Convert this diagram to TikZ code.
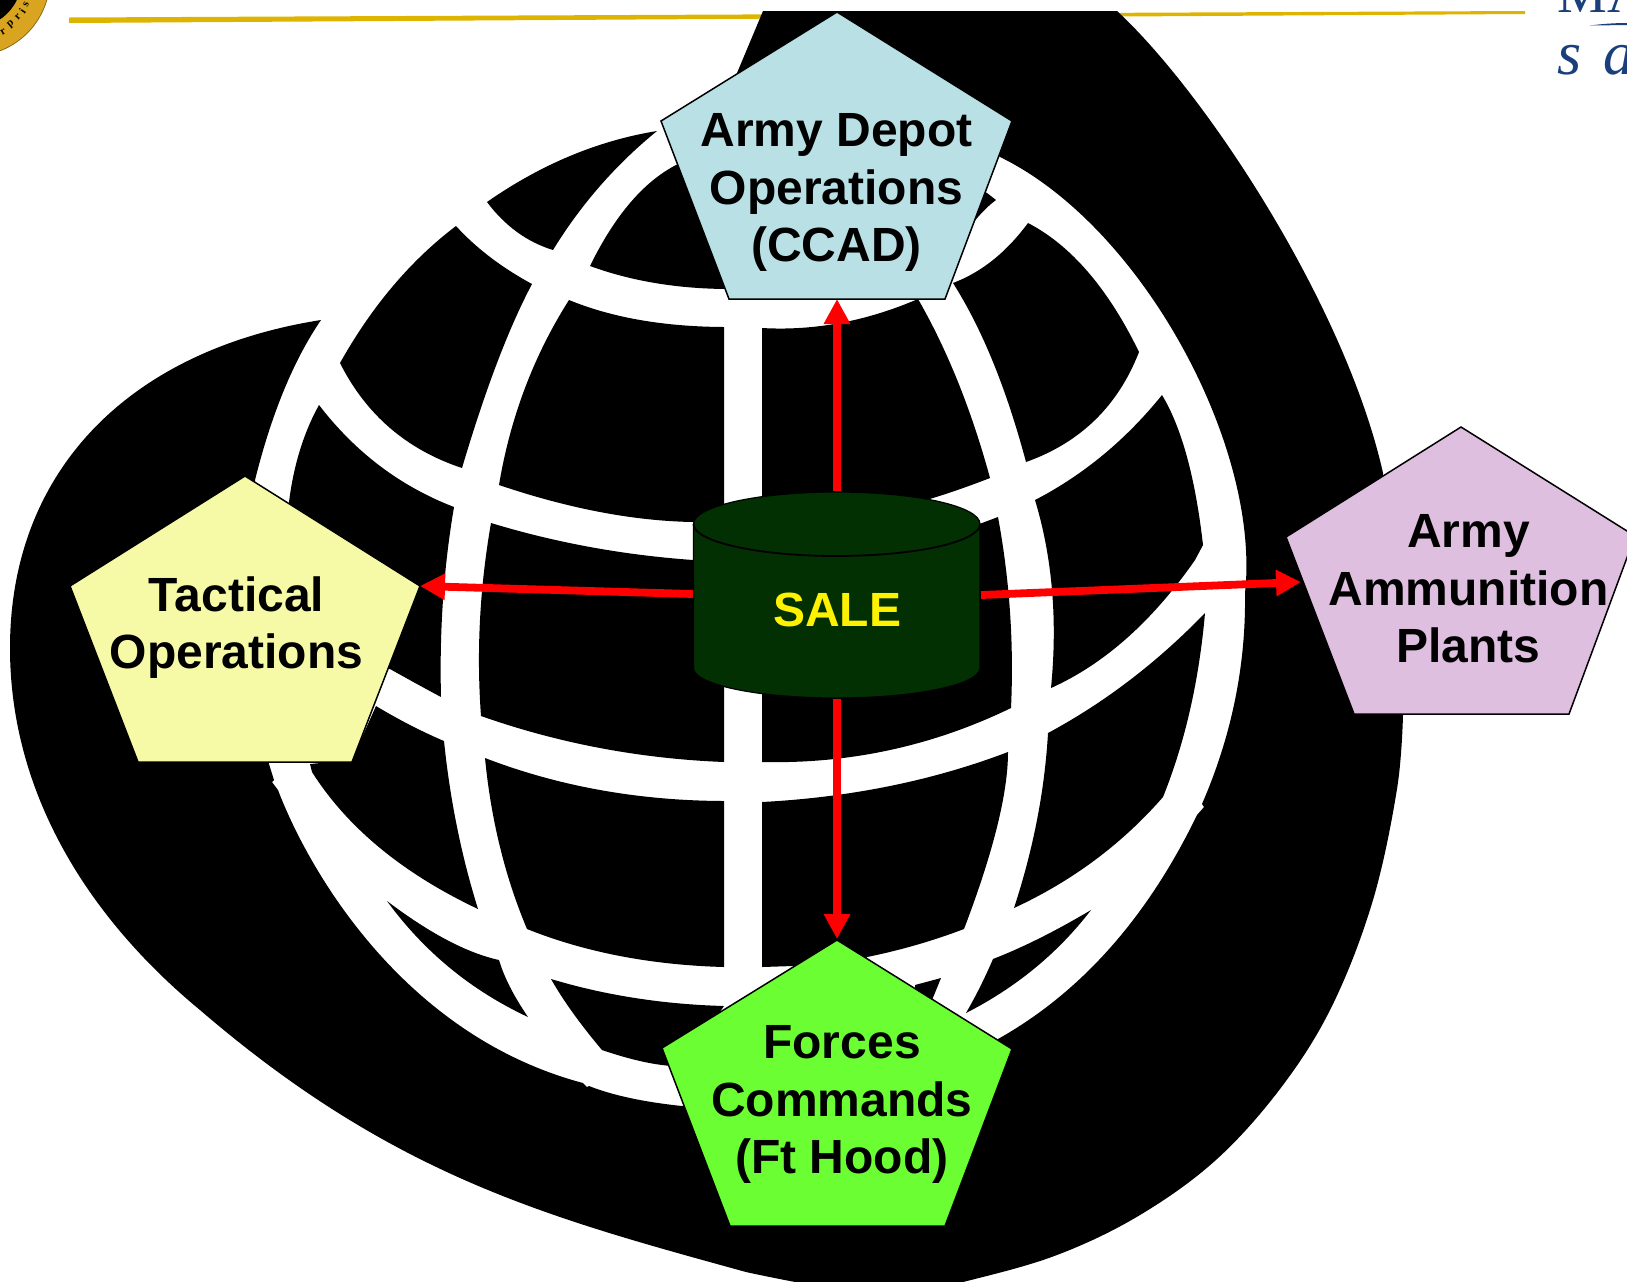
\documentclass[tikz,border=0pt]{standalone}
\usepackage{fontspec}
\setmainfont{Liberation Sans}
\newfontfamily\logofont{Liberation Serif}
\usetikzlibrary{arrows.meta,calc}
\definecolor{goldline}{HTML}{DDB400}
\definecolor{sealgold}{HTML}{D9A520}
\definecolor{sealedge}{HTML}{8A6A20}
\definecolor{logoblue}{HTML}{1A3F7A}
\definecolor{paleblue}{HTML}{B9E0E5}
\definecolor{paleyellow}{HTML}{F6FAA6}
\definecolor{palepurple}{HTML}{DFBFDF}
\definecolor{brightgreen}{HTML}{6BFF33}
\definecolor{saledark}{HTML}{033003}
% curve from a through m to b (parabola)
\def\QQ(#1)(#2)(#3){ .. controls ($1.3333*(#2)-0.3333*(#3)$) and ($1.3333*(#2)-0.3333*(#1)$) .. (#3)}
% cubic from a through p and q to b
\def\CC(#1)(#2)(#3)(#4){ .. controls ($0.3333*(#4)+3*(#2)-1.5*(#3)-0.8333*(#1)$) and ($0.3333*(#1)+3*(#3)-1.5*(#2)-0.8333*(#4)$) .. (#4)}
\tikzset{
  cell/.style={fill=black,draw=none,smooth,tension=.6},
  penta/.style={draw=black,line width=.75pt,line join=miter},
  lbl/.style={font=\bfseries\fontsize{24}{28.75}\selectfont,align=center,text=black,inner sep=0pt,outer sep=0pt},
  link/.style={draw=red,line width=3.9pt,-{Triangle[length=12.5pt,width=12.5pt]},shorten >=0pt},
  seal/.style={font=\logofont\bfseries\fontsize{5.5}{6}\selectfont,text=black,inner sep=0pt},
  logo/.style={font=\logofont\fontsize{29}{32}\selectfont,text=logoblue,inner sep=0pt,anchor=base west}
}
\begin{document}
\begin{tikzpicture}[x=0.5pt,y=-0.5pt]
\useasboundingbox (0,0) rectangle (1627,1281);
\clip (0,0) rectangle (1627,1281);
% seal
\fill[sealgold,draw=sealedge,line width=.4pt] (-28,-22) circle (78);
\fill[black] (-28,-22) circle (50);
\node[seal,rotate=31] (s1) at (3,32) {r};
\node[seal,rotate=40] (s2) at (11,24) {p};
\node[seal,rotate=47] (s3) at (18,17) {r};
\node[seal,rotate=55] (s4) at (22.5,11) {i};
\node[seal,rotate=63] (s5) at (26,4) {s};
% gold rule
\fill[goldline] (69,17.5) -- (1525,11) -- (1525,14) -- (69,23) -- cycle;
% logo fragments
\node[logo,font=\logofont\fontsize{28}{32}\selectfont] (logoM) at (1557,12) {MA};
\node[logo,font=\logofont\itshape\fontsize{31}{34}\selectfont] (logoS) at (1557,74) {s};
\node[logo,font=\logofont\itshape\fontsize{31}{34}\selectfont] (logoA) at (1603,74) {a};
\fill[logoblue] (1590,25.5) .. controls (1605,23.5) and (1618,23) .. (1627,23) -- (1627,25) .. controls (1615,25) and (1605,25.5) .. (1590,25.5) -- cycle;
% swoosh
\fill[cell]
  (763,11) -- (1117,11)
  \CC(1117,11)(1217,130)(1317,297)(1383,473)
  -- (1403,715)
  -- plot coordinates {(1403,715) (1397,789) (1373,900) (1333,1004) (1283,1085) (1217,1159) (1140,1215) (1057,1255) (967,1281) (900,1295)}
  -- (840,1290)
  \QQ(840,1290)(790,1281)(746,1272)
  \CC(746,1272)(560,1217)(384,1140)(200,1010)
  .. controls (85,915) and (10,790) .. (10,648)
  .. controls (10,470) and (130,350) .. (321,320)
  \QQ(321,320)(284,390)(255,480)
  -- (269,764) -- (274,780) -- (272,782) -- (278,790)
  \CC(278,790)(330,890)(430,1003)(583,1083)
  -- (587,1087) -- (589,1086)
  \QQ(589,1086)(630,1098)(682,1106)
  -- (998,1039)
  \QQ(998,1039)(1110,948)(1197,815)
  -- (1204,807) -- (1202,804)
  \QQ(1202,804)(1235,700)(1245,593)
  \CC(1245,593)(1220,430)(1130,268)(1000,157)
  -- (960,130) -- (737,73) -- cycle;
% globe cells
\fill[cell] (657,131) \QQ(657,131)(570,156)(487,202) \QQ(487,202)(517,232)(553,250) \QQ(553,250)(600,186)(657,131) -- cycle;
\fill[cell] (676,165) \QQ(676,165)(630,203)(590,266) \QQ(590,266)(655,283)(727,289) -- (900,280) -- (950,258) \QQ(950,258)(973,223)(996,200) -- (987,193) -- (850,120) -- cycle;
\fill[cell] (1028,223) \QQ(1028,223)(1088,272)(1139,352) \QQ(1139,352)(1095,420)(1026,462) \QQ(1026,462)(993,362)(953,283) \QQ(953,283)(993,260)(1028,223) -- cycle;
\fill[cell] (762,328) \QQ(762,328)(840,323)(918,299) \QQ(918,299)(958,382)(990,478) \QQ(990,478)(933,498)(880,512) -- (762,510) -- cycle;
\fill[cell] (569,300) \QQ(569,300)(640,320)(724,327) -- (724,510) -- (693,522) \QQ(693,522)(600,512)(499,485) \QQ(499,485)(525,388)(569,300) -- cycle;
\fill[cell] (456,226) \QQ(456,226)(490,257)(532,284) \QQ(532,284)(497,363)(462,468) \QQ(462,468)(390,428)(340,363) \QQ(340,363)(393,286)(456,226) -- cycle;
\fill[cell] (319,405) \QQ(319,405)(380,466)(454,507) \QQ(454,507)(443,600)(441,697) \QQ(441,697)(417,684)(390,669) -- (330,650) -- (289,502) \QQ(289,502)(300,450)(319,405) -- cycle;
\fill[cell] (491,523) \QQ(491,523)(590,547)(693,560) -- (724,570) -- (724,762) \QQ(724,762)(600,748)(481,716) \QQ(481,716)(480,620)(491,523) -- cycle;
\fill[cell] (376,706) \QQ(376,706)(410,725)(444,741) \QQ(444,741)(457,827)(478,909) \QQ(478,909)(380,848)(312,772) -- (310,764) -- (352,760) -- cycle;
\fill[cell] (485,758) \QQ(485,758)(600,790)(724,801) -- (724,967) \QQ(724,967)(620,956)(527,929) \QQ(527,929)(500,847)(485,758) -- cycle;
\fill[cell] (387,901) \QQ(387,901)(447,940)(499,960) \QQ(499,960)(510,987)(528,1017) \QQ(528,1017)(450,968)(387,901) -- cycle;
\fill[cell] (551,979) \QQ(551,979)(635,998)(724,1006) -- (700,1040) -- (672,1066) \QQ(672,1066)(640,1061)(602,1050) \QQ(602,1050)(573,1013)(551,979) -- cycle;
\fill[cell] (762,802) \QQ(762,802)(890,786)(1008,752) \QQ(1008,752)(997,827)(964,929) \QQ(964,929)(916,945)(867,957) -- (850,990) -- (800,985) -- (793,966) -- (762,967) -- cycle;
\fill[cell] (982,523) -- (998,517) \QQ(998,517)(1010,612)(1011,708) \QQ(1011,708)(890,750)(762,762) -- (762,650) -- (960,530) -- cycle;
\fill[cell] (1035,500) \QQ(1035,500)(1103,455)(1162,395) \QQ(1162,395)(1187,457)(1203,545) -- (1195,560) \QQ(1195,560)(1127,638)(1051,688) \QQ(1051,688)(1052,590)(1035,500) -- cycle;
\fill[cell] (1205,613) \QQ(1205,613)(1130,680)(1048,733) \QQ(1048,733)(1037,820)(1014,908) \QQ(1014,908)(1095,860)(1163,797) \QQ(1163,797)(1190,710)(1205,613) -- cycle;
\fill[cell] (1091,910) \QQ(1091,910)(1040,938)(993,959) \QQ(993,959)(980,987)(966,1013) \QQ(966,1013)(1035,968)(1091,910) -- cycle;
\fill[cell] (941,978) -- (915,985) -- (915,1000) -- (930,1005) -- cycle;
% pentagons
\draw[penta,fill=paleblue] (837,12) -- (1012,121) -- (945,299) -- (729,299) -- (661,121) -- cycle;
\draw[penta,fill=paleyellow] (245,476) -- (420,586) -- (352,762) -- (138,762) -- (70,586) -- cycle;
\draw[penta,fill=palepurple] (1461,427) -- (1635,536) -- (1569,714) -- (1354,714) -- (1286,537) -- cycle;
\draw[penta,fill=brightgreen] (837,940) -- (1012,1049) -- (945,1226) -- (730,1226) -- (662,1048) -- cycle;
% cylinder
\draw[fill=saledark,draw=black,line width=.6pt] (693.5,524) -- (693.5,668) arc[start angle=180,end angle=360,x radius=143.25,y radius=-30] -- (980,524) arc[start angle=0,end angle=180,x radius=143.25,y radius=-32] -- cycle;
\draw[black,line width=.9pt] (693.5,524) arc[start angle=180,end angle=360,x radius=143.25,y radius=-32];
% labels
\node[lbl] (depot) at (836.5,192.5) {Army Depot\\Operations\\(CCAD)};
\node[lbl] (tactical) at (236.5,627.5) {Tactical\\Operations};
\node[lbl] (ammo) at (1468.5,589) {Army\\Ammunition\\Plants};
\node[lbl] (forces) at (842,1104.5) {Forces\\Commands\\(Ft Hood)};
\node[lbl,text=yellow,anchor=base] (sale) at (837,626) {SALE};
% connector ends
\coordinate (saleT) at (837,491);
\coordinate (saleB) at (837,699);
\coordinate (saleL) at (693,594);
\coordinate (saleR) at (981,595);
\coordinate (depotP) at (837,299);
\coordinate (forcesP) at (837,939);
\coordinate (tactP) at (420,586);
\coordinate (ammoP) at (1301,582);
\draw[link] (saleT) -- (depotP);
\draw[link] (saleB) -- (forcesP);
\draw[link] (saleL) -- (tactP);
\draw[link] (saleR) -- (ammoP);
\end{tikzpicture}
\end{document}
